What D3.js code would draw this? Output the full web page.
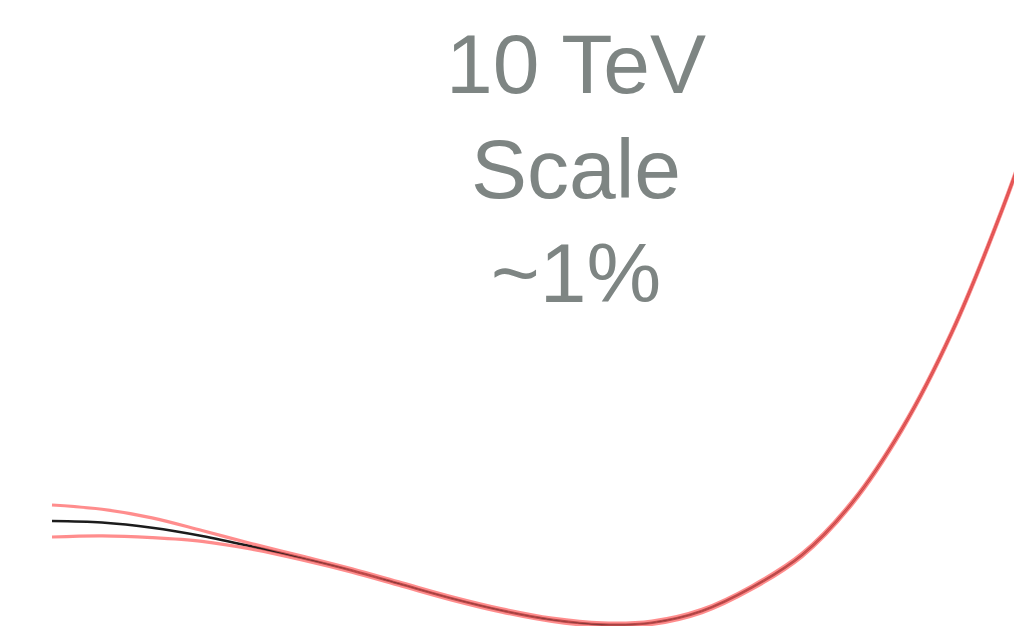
<!DOCTYPE html>
<html>
<head>
<meta charset="utf-8">
<script src="https://cdn.jsdelivr.net/npm/d3@7"></script>
<style>
  html, body { margin: 0; padding: 0; background: #fff; overflow: hidden; }
  svg { display: block; }
</style>
</head>
<body>
<svg id="chart" width="1014" height="626"></svg>
<script>
// Field coordinate (arbitrary units) and potential value relative to the minimum
const fieldValues = [0, 0.5, 1, 1.5, 2, 2.5, 3, 3.5, 4, 4.5, 5, 5.5, 6, 6.5, 7, 7.5, 8, 8.5, 9, 9.5, 10];
const potential   = [1.000, 0.985, 0.935, 0.856, 0.755, 0.644, 0.524, 0.389, 0.255, 0.139, 0.050, 0.004, 0.022, 0.135, 0.361, 0.673, 1.173, 1.885, 2.817, 3.990, 5.346];
// Uncertainty half-width of the band around the central curve
const bandHalfWidth = [0.154, 0.128, 0.095, 0.052, 0.026, 0.018, 0.016, 0.016, 0.016, 0.016, 0.016, 0.016, 0.016, 0.016, 0.016, 0.016, 0.016, 0.016, 0.016, 0.016, 0.016];
const labelLines = ["10 TeV", "Scale", "~1%"];

const width = 1014, height = 626;
const svg = d3.select("#chart");

const x = d3.scaleLinear().domain([0, 10]).range([52, 1052]);
const y = d3.scaleLinear().domain([0, 1]).range([625, 521]);

const central = fieldValues.map((f, i) => ({ f, v: potential[i] }));
const upper = fieldValues.map((f, i) => ({ f, v: potential[i] + bandHalfWidth[i] }));
const lower = fieldValues.map((f, i) => ({ f, v: potential[i] - bandHalfWidth[i] }));

const line = d3.line()
  .x(d => x(d.f))
  .y(d => y(d.v))
  .curve(d3.curveCatmullRom.alpha(0.5));

// Central curve
svg.append("path")
  .datum(central)
  .attr("d", line)
  .attr("fill", "none")
  .attr("stroke", "#1c1c1c")
  .attr("stroke-width", 2.6);

// Band edges, translucent over the central curve
[upper, lower].forEach(data => {
  svg.append("path")
    .datum(data)
    .attr("d", line)
    .attr("fill", "none")
    .attr("stroke", "#ff5c5c")
    .attr("stroke-opacity", 0.7)
    .attr("stroke-width", 3.2);
});

// Scale annotation
const label = svg.append("text")
  .attr("x", 576)
  .attr("text-anchor", "middle")
  .attr("font-family", "'Liberation Sans', Arial, Helvetica, sans-serif")
  .attr("font-size", 84)
  .attr("fill", "#7e8583");

label.selectAll("tspan")
  .data(labelLines)
  .join("tspan")
  .attr("x", 576)
  .attr("y", (d, i) => 93 + i * 104.5)
  .text(d => d);
</script>
</body>
</html>
